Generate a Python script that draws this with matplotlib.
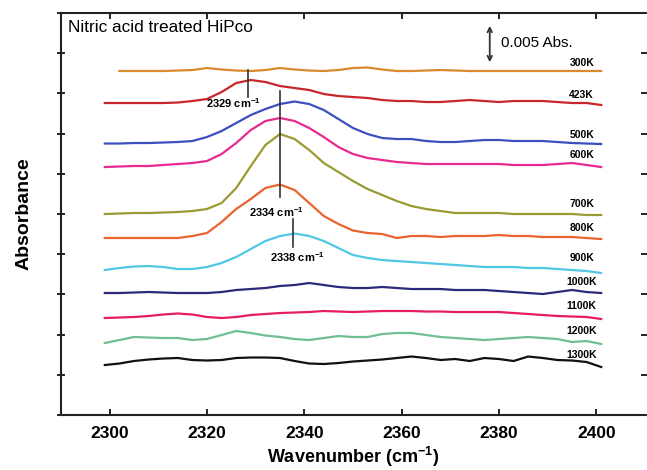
import numpy as np
import matplotlib
matplotlib.use("Agg")
import matplotlib.pyplot as plt

plt.rcParams["font.family"] = ["Liberation Sans", "DejaVu Sans"]
plt.rcParams["mathtext.default"] = "regular"

# sampling grid (cm-1), traces, stacked offsets in arbitrary units
wavenumber = np.arange(2299, 2402, 3)

abs_300k = [np.nan, 344, 344, 344, 344, 344.5, 345, 347, 345.5, 344.5, 344, 345, 347, 345.5, 344.5,
            344, 345, 347, 347.5, 345.5, 344, 344, 344.5, 345, 344.5, 344, 344, 344, 344, 344,
            344, 344, 344, 344, 344]
abs_423k = [312, 312, 312, 312, 312, 312.5, 314, 316, 323, 332, 335, 333, 329, 327, 325,
            321, 319, 318, 317, 315, 314, 314, 313, 313, 314, 315, 314, 313, 314, 314,
            314, 313, 312, 312, 310]
abs_500k = [271.5, 271.5, 272, 272, 272.5, 273, 274, 278, 284, 292, 300, 306, 311, 313.5, 311,
            305, 296, 287, 281, 277, 276, 276, 274, 273, 273, 274, 275, 275, 274, 274,
            274, 273, 272, 271.5, 271]
abs_600k = [248, 248.5, 249, 249, 250, 251, 252, 254, 261, 272, 285, 294, 297, 294, 287,
            278, 268, 261, 257, 255, 253, 252, 251, 251, 251, 251, 251, 251, 250, 250,
            250, 251, 252, 250, 248]
abs_700k = [201, 201.5, 202, 202, 202.5, 203, 204, 206, 212, 227, 249, 270, 281, 276, 265,
            252, 243, 234, 226, 220, 214, 209, 206, 204, 202, 202, 202, 202, 201, 201,
            201, 201, 201, 200, 200]
abs_800k = [177, 177, 177, 177, 177, 177, 179, 182, 193, 206, 216, 227, 230.5, 225, 212,
            199, 191, 184.5, 182, 181, 177, 179, 179, 178, 179, 179, 179, 180, 179, 179,
            178, 178, 178, 177, 176]
abs_900k = [145, 147, 148.5, 149, 148, 146, 146, 148, 152, 158, 166, 174, 179, 181.5, 179,
            174, 167, 160, 157, 155, 154, 153, 152, 151, 150, 149, 148, 148, 148, 147,
            147, 146, 145, 144, 142]
abs_1000k = [122, 122, 122.5, 123, 122.5, 122, 122, 122, 123, 125, 126, 127, 129, 130, 132,
             130, 128, 127, 127, 128, 127, 126, 126, 126, 125, 125, 125, 124, 123, 122,
             121, 123, 125, 123, 122]
abs_1100k = [97, 97.5, 98, 99, 100.5, 101.5, 100.5, 98, 97, 98, 100, 101, 102, 102.5, 103,
             104, 103.5, 103, 103.5, 104, 104, 104, 103.5, 103.5, 103, 103, 103, 103, 102, 101,
             100, 99, 98.5, 98, 96]
abs_1200k = [72, 75, 78, 77.5, 77, 77, 75, 76, 80, 84, 82, 79.5, 78, 76, 75,
             77, 79, 78, 78, 81, 82, 82, 80, 78, 77, 76, 75, 76, 77, 78,
             77, 76, 73, 74, 71]
abs_1300k = [50, 51.5, 54, 55.5, 56.5, 57, 55, 54.5, 55, 57, 57.5, 57.5, 57, 54, 51.5,
             51, 52, 53.5, 54.5, 55.5, 57, 58.5, 57, 55, 56, 54, 57, 56, 54, 58.5,
             57, 55, 54.5, 53, 48]

temps = ["300K", "423K", "500K", "600K", "700K", "800K", "900K", "1000K", "1100K", "1200K", "1300K"]
traces = [abs_300k, abs_423k, abs_500k, abs_600k, abs_700k, abs_800k, abs_900k,
          abs_1000k, abs_1100k, abs_1200k, abs_1300k]
colors = ["#d88a2c", "#c8262b", "#3c4fbe", "#e62a92", "#9a9a32", "#e8632e", "#52c6e6",
          "#2b2a78", "#e61c5e", "#6fbf92", "#111111"]
label_y = [352, 320, 280, 260, 211, 187, 157, 133, 109, 84, 60]

# peak markers: (wavenumber, y bottom, y top, label x, label y, text)
peaks = [(2328.5, 318, 345, 2325.5, 312, "2329 cm$^{-1}$"),
         (2335.0, 218, 324, 2334.3, 203, "2334 cm$^{-1}$"),
         (2337.6, 168, 196, 2338.5, 158, "2338 cm$^{-1}$")]

fig = plt.figure(figsize=(6.47, 4.70), dpi=100)
ax = fig.add_axes([0.0943, 0.117, 0.9026, 0.8553])

for y, c in zip(traces, colors):
    ax.plot(wavenumber, y, color=c, lw=1.6)

for t, ly in zip(temps, label_y):
    ax.text(2397, ly, t, ha="center", va="center", fontsize=7.5, fontweight="bold")

for wn, y0, y1, tx, ty, s in peaks:
    ax.plot([wn, wn], [y0, y1], color="#333333", lw=1.2)
    ax.text(tx, ty, s, ha="center", va="center", fontsize=8, fontweight="bold")

ax.annotate("", xy=(2378.1, 392), xytext=(2378.1, 350),
            arrowprops=dict(arrowstyle="<->", color="#333333", lw=1.3,
                            mutation_scale=8))
ax.text(2380.4, 372, "0.005 Abs.", ha="left", va="center", fontsize=11)
ax.text(2291.4, 388, "Nitric acid treated HiPco", ha="left", va="center", fontsize=12.4)

ax.set_xlim(2290, 2410)
ax.set_ylim(0, 402)
ax.set_xticks([2300, 2320, 2340, 2360, 2380, 2400])
ax.set_yticks(np.arange(0, 403, 40.2))
ax.set_yticklabels([])
for lbl in ax.get_xticklabels():
    lbl.set_fontweight("bold")
ax.tick_params(axis="x", direction="in", length=4, width=1.2, labelsize=12.5,
               top=True, pad=8)
ax.tick_params(axis="y", direction="inout", length=6, width=1.2, right=True)
for sp in ax.spines.values():
    sp.set_linewidth(1.5)
    sp.set_color("#222222")
ax.spines["right"].set_visible(False)

ax.set_xlabel("Wavenumber (cm$^{-1}$)", fontsize=13, fontweight="bold", labelpad=3)
ax.set_ylabel("Absorbance", fontsize=14, fontweight="bold", labelpad=14)

fig.savefig("out.png", dpi=100)
